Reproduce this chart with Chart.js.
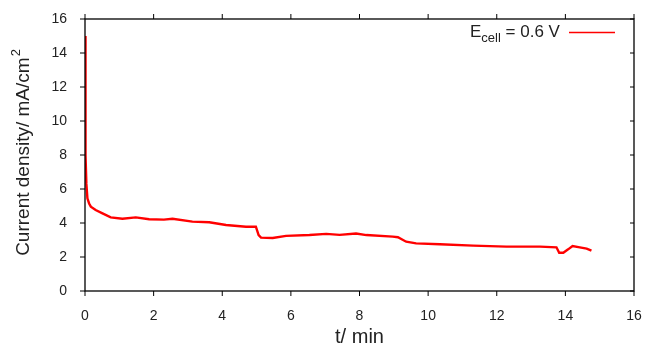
<!DOCTYPE html>
<html>
<head>
<meta charset="utf-8">
<script src="https://cdn.jsdelivr.net/npm/chart.js@4/dist/chart.umd.min.js"></script>
<style>
html,body{margin:0;padding:0;background:#fff;}
#wrap{width:648px;height:346px;position:relative;}
</style>
</head>
<body>
<div id="wrap"><canvas id="c" width="648" height="346"></canvas></div>
<script>
// t / min
const times = [0, 0.01, 0.02, 0.04, 0.07, 0.12, 0.17, 0.31, 0.51, 0.75, 1.09, 1.48, 1.87, 2.3, 2.55, 3.13, 3.62, 4.11, 4.69, 4.98, 5.06, 5.13, 5.47, 5.86, 6.54, 7.03, 7.42, 7.9, 8.2, 8.97, 9.12, 9.36, 9.65, 10.34, 11.31, 12.28, 13.26, 13.74, 13.82, 13.94, 14.08, 14.21, 14.42, 14.62, 14.76];
// current density / mA cm^-2
const currents = [15.0, 10.5, 8.0, 6.3, 5.45, 5.15, 4.96, 4.76, 4.57, 4.33, 4.25, 4.33, 4.22, 4.2, 4.25, 4.08, 4.04, 3.88, 3.78, 3.78, 3.29, 3.14, 3.12, 3.24, 3.29, 3.36, 3.3, 3.38, 3.29, 3.2, 3.16, 2.9, 2.8, 2.75, 2.67, 2.61, 2.61, 2.57, 2.25, 2.25, 2.45, 2.65, 2.57, 2.49, 2.37];
const xTicks = [0, 2, 4, 6, 8, 10, 12, 14, 16];
const yTicks = [0, 2, 4, 6, 8, 10, 12, 14, 16];
const xTitle = 't/ min';
const yTitle = 'Current density/ mA/cm';
const yTitleSup = '2';
const legendMain = 'E';
const legendSub = 'cell';
const legendRest = ' = 0.6 V';

const points = times.map((t, i) => ({x: t, y: currents[i]}));
const FONT = '"Liberation Sans", Arial, Helvetica, sans-serif';
const TEXT = '#222';

const framePlugin = {
  id: 'frame',
  afterDraw(chart) {
    const {ctx, chartArea: a, scales} = chart;
    ctx.save();
    ctx.strokeStyle = '#000';
    ctx.lineWidth = 1.3;
    ctx.strokeRect(a.left, a.top, a.right - a.left, a.bottom - a.top);
    ctx.lineWidth = 1;
    ctx.beginPath();
    xTicks.forEach(v => {
      const px = scales.x.getPixelForValue(v);
      ctx.moveTo(px, a.bottom); ctx.lineTo(px, a.bottom + 5);
      ctx.moveTo(px, a.top); ctx.lineTo(px, a.top - 5);
    });
    yTicks.forEach(v => {
      const py = scales.y.getPixelForValue(v);
      ctx.moveTo(a.left, py); ctx.lineTo(a.left - 5, py);
      ctx.moveTo(a.right, py); ctx.lineTo(a.right - 4, py);
    });
    ctx.stroke();

    ctx.fillStyle = TEXT;
    // x title
    ctx.font = '20px ' + FONT;
    ctx.textAlign = 'center';
    ctx.textBaseline = 'middle';
    ctx.fillText(xTitle, (a.left + a.right) / 2, 337);

    // y title (rotated) with superscript
    ctx.save();
    ctx.translate(23, 153);
    ctx.rotate(-Math.PI / 2);
    ctx.textAlign = 'left';
    ctx.textBaseline = 'middle';
    ctx.font = '19px ' + FONT;
    const w1 = ctx.measureText(yTitle).width;
    ctx.font = '13px ' + FONT;
    const w2 = ctx.measureText(yTitleSup).width;
    const start = -(w1 + w2) / 2;
    ctx.font = '19px ' + FONT;
    ctx.fillText(yTitle, start, 1);
    ctx.font = '13px ' + FONT;
    ctx.fillText(yTitleSup, start + w1 + 1, -7);
    ctx.restore();

    // legend
    const lx = 470, ly = 37;
    ctx.textBaseline = 'alphabetic';
    ctx.textAlign = 'left';
    ctx.font = '17px ' + FONT;
    ctx.fillText(legendMain, lx, ly);
    let w = ctx.measureText(legendMain).width;
    ctx.font = '13px ' + FONT;
    ctx.fillText(legendSub, lx + w, ly + 5);
    w += ctx.measureText(legendSub).width;
    ctx.font = '17px ' + FONT;
    ctx.fillText(legendRest, lx + w, ly);
    ctx.strokeStyle = '#ff0000';
    ctx.lineWidth = 1.3;
    ctx.beginPath();
    ctx.moveTo(569, 32.5); ctx.lineTo(615, 32.5);
    ctx.stroke();
    ctx.restore();
  }
};

new Chart(document.getElementById('c'), {
  type: 'scatter',
  data: {
    datasets: [{
      label: 'Ecell = 0.6 V',
      data: points,
      showLine: true,
      borderColor: '#ff0000',
      backgroundColor: '#ff0000',
      borderWidth: 2.4,
      pointRadius: 0,
      tension: 0
    }]
  },
  options: {
    responsive: false,
    animation: false,
    devicePixelRatio: 1,
    layout: {padding: {top: 19, right: 14, left: 0, bottom: 0}},
    plugins: {legend: {display: false}, tooltip: {enabled: false}},
    scales: {
      x: {
        type: 'linear', min: 0, max: 16,
        afterBuildTicks(s) { s.ticks = xTicks.map(v => ({value: v})); },
        afterFit(s) { s.height = 55; s.paddingLeft = 0; s.paddingRight = 0; },
        grid: {display: false, drawTicks: false},
        border: {display: false},
        ticks: {color: TEXT, font: {family: FONT, size: 14}, padding: 17, maxRotation: 0},
        title: {display: false}
      },
      y: {
        type: 'linear', min: 0, max: 16,
        afterBuildTicks(s) { s.ticks = yTicks.map(v => ({value: v})); },
        afterFit(s) { s.width = 85; s.paddingTop = 0; s.paddingBottom = 0; },
        grid: {display: false, drawTicks: false},
        border: {display: false},
        ticks: {color: TEXT, font: {family: FONT, size: 14}, padding: 18},
        title: {display: false}
      }
    }
  },
  plugins: [framePlugin]
});
</script>
</body>
</html>
